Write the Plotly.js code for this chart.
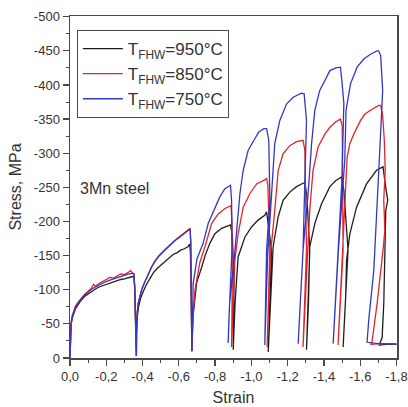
<!DOCTYPE html>
<html>
<head>
<meta charset="utf-8">
<script src="https://cdn.plot.ly/plotly-3.0.1.min.js"></script>
<style>html,body{margin:0;padding:0;background:#fff;}#chart{width:408px;height:407px;}</style>
</head>
<body>
<div id="chart"></div>
<script>
// Series names
const seriesNames = ['T<sub>FHW</sub>=950°C', 'T<sub>FHW</sub>=850°C', 'T<sub>FHW</sub>=750°C'];

// 950 °C (black)
const strain950 = [
  0, -0.002, -0.006, -0.012, -0.02, -0.03, -0.045, -0.06, -0.08, -0.10, -0.12, -0.14, -0.16, -0.18, -0.20, -0.22, -0.24, -0.26, -0.28, -0.30, -0.32, -0.34, -0.352, -0.357, -0.361, -0.364,
  -0.366, -0.367, -0.371, -0.378, -0.39, -0.405, -0.42, -0.44, -0.46, -0.48, -0.50, -0.52, -0.55, -0.57, -0.59, -0.61, -0.63, -0.65, -0.66, -0.664, -0.667, -0.670, -0.671,
  -0.672, -0.678, -0.698, -0.726, -0.745, -0.771, -0.799, -0.836, -0.872, -0.885, -0.895, -0.904, -0.900,
  -0.910, -0.927, -0.964, -1.001, -1.037, -1.074, -1.084, -1.094, -1.111, -1.093,
  -1.105, -1.120, -1.148, -1.175, -1.212, -1.249, -1.285, -1.295, -1.306, -1.322, -1.304,
  -1.315, -1.322, -1.350, -1.387, -1.433, -1.466, -1.497, -1.510, -1.533, -1.506,
  -1.520, -1.525, -1.543, -1.580, -1.635, -1.690, -1.726, -1.741, -1.752, -1.741, -1.739, -1.736, -1.730, -1.721, -1.705, -1.75, -1.80
];
const stress950 = [
  0, -28, -48, -58, -66, -72, -78, -84, -90, -94, -98, -101, -104, -106, -108, -110, -111, -113, -115, -116, -118, -119, -119, -100, -55, -3,
  -3, -35, -60, -75, -88, -98, -107, -116, -125, -131, -136, -141, -148, -152, -154, -158, -160, -163, -167, -155, -110, -40, -10,
  -10, -60, -110, -133, -150, -168, -182, -190, -193, -195, -180, -114, -12,
  -80, -148, -177, -192, -202, -209, -214, -194, -158, -9,
  -80, -163, -207, -231, -243, -251, -256, -257, -238, -158, -12,
  -80, -163, -197, -226, -251, -260, -265, -246, -158, -16,
  -90, -143, -182, -221, -255, -275, -280, -250, -231, -216, -187, -158, -79, -30, -19, -20, -20
];

// 850 °C (red)
const strain850 = [
  0, -0.002, -0.006, -0.012, -0.02, -0.03, -0.045, -0.06, -0.08, -0.10, -0.12, -0.13, -0.14, -0.16, -0.18, -0.20, -0.22, -0.24, -0.26, -0.28, -0.30, -0.32, -0.335, -0.345, -0.352, -0.357, -0.361, -0.364,
  -0.366, -0.367, -0.370, -0.376, -0.385, -0.395, -0.41, -0.43, -0.45, -0.47, -0.49, -0.52, -0.55, -0.58, -0.61, -0.635, -0.655, -0.662, -0.666, -0.668, -0.670, -0.671,
  -0.672, -0.678, -0.689, -0.716, -0.744, -0.781, -0.817, -0.854, -0.882, -0.888, -0.893, -0.895, -0.891,
  -0.900, -0.909, -0.927, -0.955, -0.992, -1.029, -1.074, -1.084, -1.091, -1.102, -1.087,
  -1.095, -1.105, -1.129, -1.148, -1.175, -1.212, -1.249, -1.285, -1.295, -1.304, -1.285,
  -1.298, -1.313, -1.322, -1.340, -1.368, -1.405, -1.433, -1.466, -1.491, -1.501, -1.506, -1.478,
  -1.492, -1.506, -1.528, -1.543, -1.565, -1.602, -1.625, -1.657, -1.680, -1.702, -1.713, -1.724, -1.733, -1.738, -1.730, -1.736, -1.726, -1.693, -1.666, -1.660, -1.72, -1.80
];
const stress850 = [
  0, -30, -52, -62, -70, -76, -82, -87, -93, -98, -103, -108, -105, -109, -112, -114, -118, -117, -120, -123, -122, -126, -128, -124, -124, -105, -60, -3,
  -3, -40, -66, -80, -90, -100, -110, -123, -134, -143, -150, -158, -166, -173, -179, -184, -189, -190, -170, -120, -60, -10,
  -10, -60, -99, -140, -163, -197, -211, -219, -222, -223, -200, -120, -16,
  -80, -143, -182, -221, -241, -255, -261, -263, -253, -158, -16,
  -80, -150, -216, -275, -299, -311, -317, -319, -304, -158, -16,
  -90, -163, -216, -275, -309, -328, -338, -346, -350, -340, -158, -19,
  -100, -158, -294, -314, -328, -348, -357, -363, -367, -370, -370, -355, -319, -275, -231, -187, -158, -79, -25, -20, -21, -21
];

// 750 °C (blue)
const strain750 = [
  0, -0.002, -0.006, -0.012, -0.02, -0.03, -0.045, -0.06, -0.08, -0.10, -0.12, -0.14, -0.16, -0.18, -0.20, -0.22, -0.24, -0.26, -0.28, -0.30, -0.32, -0.34, -0.352, -0.357, -0.361, -0.364,
  -0.366, -0.367, -0.370, -0.376, -0.385, -0.395, -0.41, -0.43, -0.45, -0.47, -0.49, -0.52, -0.55, -0.58, -0.61, -0.635, -0.655, -0.662, -0.666, -0.668, -0.670, -0.671,
  -0.672, -0.676, -0.679, -0.700, -0.734, -0.762, -0.799, -0.826, -0.854, -0.872, -0.885, -0.891, -0.893, -0.876, -0.872,
  -0.880, -0.900, -0.918, -0.937, -0.955, -0.982, -1.014, -1.041, -1.069, -1.084, -1.096, -1.102, -1.084, -1.074,
  -1.090, -1.111, -1.129, -1.157, -1.194, -1.230, -1.277, -1.291, -1.304, -1.295, -1.285, -1.258,
  -1.285, -1.313, -1.332, -1.350, -1.377, -1.414, -1.433, -1.466, -1.491, -1.499, -1.510, -1.499, -1.478, -1.451,
  -1.480, -1.515, -1.522, -1.547, -1.583, -1.620, -1.657, -1.693, -1.702, -1.713, -1.724, -1.708, -1.693, -1.675, -1.647, -1.638, -1.70, -1.80
];
const stress750 = [
  0, -30, -50, -60, -68, -74, -80, -86, -92, -97, -101, -104, -107, -110, -112, -114, -116, -118, -120, -121, -123, -124, -123, -105, -60, -3,
  -3, -40, -65, -80, -90, -100, -110, -122, -133, -142, -149, -157, -165, -172, -178, -183, -188, -189, -170, -120, -60, -10,
  -10, -60, -109, -145, -168, -197, -221, -236, -248, -251, -253, -230, -158, -55, -22,
  -80, -129, -182, -241, -275, -304, -319, -331, -336, -336, -319, -231, -158, -19,
  -150, -241, -314, -348, -372, -382, -388, -387, -348, -260, -158, -21,
  -158, -241, -314, -363, -392, -411, -421, -425, -426, -406, -373, -260, -158, -21,
  -158, -290, -363, -402, -426, -438, -445, -450, -450, -443, -392, -304, -225, -128, -55, -23, -21, -20
];

// Tick labels
const xTickVals = [0, -0.2, -0.4, -0.6, -0.8, -1.0, -1.2, -1.4, -1.6, -1.8];
const xTickText = ['0,0', '-0,2', '-0,4', '-0,6', '-0,8', '-1,0', '-1,2', '-1,4', '-1,6', '-1,8'];
const yTickVals = [0, -50, -100, -150, -200, -250, -300, -350, -400, -450, -500];
const yTickText = ['0', '-50', '-100', '-150', '-200', '-250', '-300', '-350', '-400', '-450', '-500'];

const colors = ['#1e1e1e', '#e3242b', '#3338c2'];
const xs = [strain950, strain850, strain750];
const ys = [stress950, stress850, stress750];

const traces = xs.map((x, i) => ({
  x: x, y: ys[i], type: 'scatter', mode: 'lines', name: seriesNames[i],
  line: {color: colors[i], width: 1.3}, cliponaxis: true
}));

const axisColor = '#4a4a4a';
const font = 'Liberation Sans, Arial, sans-serif';

const layout = {
  width: 408, height: 407,
  margin: {l: 70, r: 11, t: 16, b: 49},
  paper_bgcolor: '#ffffff', plot_bgcolor: '#ffffff',
  font: {family: font, color: '#333', size: 13},
  showlegend: true,
  legend: {
    x: 0.021, y: 0.959, xanchor: 'left', yanchor: 'top',
    bordercolor: axisColor, borderwidth: 1, bgcolor: 'rgba(255,255,255,0)',
    font: {family: font, size: 17, color: '#333'},
    itemwidth: 40,
    tracegroupgap: 0
  },
  xaxis: {
    range: [0, -1.803], tickmode: 'array', tickvals: xTickVals, ticktext: xTickText,
    ticks: 'outside', ticklen: 6, tickwidth: 1.2, tickcolor: axisColor,
    minor: {dtick: 0.1, tick0: 0, ticks: 'outside', ticklen: 3, tickwidth: 1, tickcolor: axisColor},
    showline: true, linecolor: axisColor, linewidth: 1.5, mirror: true,
    showgrid: false, zeroline: false,
    tickfont: {family: font, size: 13, color: '#333'},
    title: {text: 'Strain', font: {family: font, size: 16, color: '#333'}, standoff: 8}
  },
  yaxis: {
    range: [0, -501], tickmode: 'array', tickvals: yTickVals, ticktext: yTickText,
    ticks: 'outside', ticklen: 6, tickwidth: 1.2, tickcolor: axisColor,
    minor: {dtick: 25, tick0: 0, ticks: 'outside', ticklen: 3, tickwidth: 1, tickcolor: axisColor},
    showline: true, linecolor: axisColor, linewidth: 1.5, mirror: true,
    showgrid: false, zeroline: false,
    tickfont: {family: font, size: 13, color: '#333'},
    title: {text: 'Stress, MPa', font: {family: font, size: 16, color: '#333'}, standoff: 8}
  },
  annotations: [{
    text: '3Mn steel', xref: 'paper', yref: 'paper', x: 0.024, y: 0.497,
    xanchor: 'left', yanchor: 'middle', showarrow: false,
    font: {family: font, size: 16, color: '#333'}
  }]
};

Plotly.newPlot('chart', traces, layout, {displayModeBar: false, staticPlot: true});
</script>
</body>
</html>
